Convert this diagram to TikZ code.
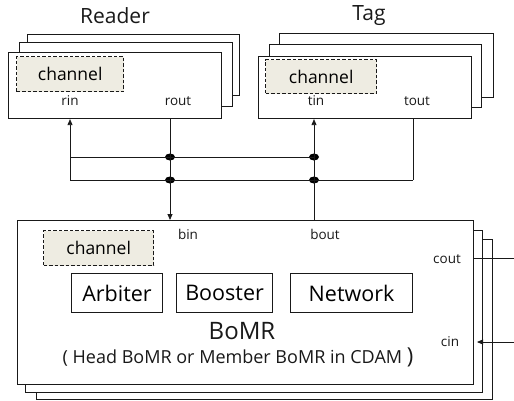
\documentclass[tikz,border=0pt]{standalone}
\usepackage{fontspec}
\setmainfont{Open Sans}
\usetikzlibrary{arrows.meta,shapes.geometric}
\definecolor{chfill}{RGB}{238,236,226}
\definecolor{ink}{RGB}{25,25,25}
\begin{document}
\begin{tikzpicture}[x=1pt,y=-1pt,
  box/.style={draw=ink, line width=1.1pt, fill=white, anchor=north west, inner sep=0pt},
  chan/.style={draw=ink, dash pattern=on 3.5pt off 2pt, line width=1.4pt, fill=chfill, anchor=north west, inner sep=0pt, font=\fontsize{17.5}{17}\selectfont},
  inbox/.style={draw=ink, line width=1.1pt, fill=white, anchor=north west, inner sep=0pt, font=\fontsize{21.5}{21}\selectfont},
  lbl/.style={inner sep=0pt, text=ink, font=\fontsize{13.5}{13}\selectfont},
  title/.style={inner sep=0pt, text=ink, font=\fontsize{21}{21}\selectfont},
  dot/.style={ellipse, fill=black, minimum width=10pt, minimum height=7pt, inner sep=0pt},
  conn/.style={draw=ink, line width=0.8pt},
  arr/.style={conn, -{Triangle[length=6pt,width=5pt]}}
]
\useasboundingbox (0,0) rectangle (514,400);

% Titles
\node[title] (rtitle) at (115,16) {Reader};
\node[title] (ttitle) at (369,16) {Tag};

% Reader stack
\node[box, minimum width=212pt, minimum height=61pt] (rback) at (27,34) {};
\node[box, minimum width=213pt, minimum height=64pt] (rmid) at (19,42) {};
\node[box, minimum width=213pt, minimum height=66pt] (reader) at (8,52) {};
\node[chan, minimum width=107pt, minimum height=35pt] (rch) at (16,56) {channel};
\node[lbl] (rin) at (70,101) {rin};
\node[lbl] (rout) at (178,101) {rout};

% Tag stack
\node[box, minimum width=214pt, minimum height=64pt] (tback) at (279,33) {};
\node[box, minimum width=212pt, minimum height=63pt] (tmid) at (269,44) {};
\node[box, minimum width=213pt, minimum height=62pt] (tag) at (258,56) {};
\node[chan, minimum width=111pt, minimum height=34pt] (tch) at (265,59) {channel};
\node[lbl] (tin) at (316,101) {tin};
\node[lbl] (tout) at (417,101) {tout};

% BoMR stack
\node[box, minimum width=456pt, minimum height=160pt] (bback) at (36,239) {};
\node[box, minimum width=457pt, minimum height=162pt] (bmid) at (25,230) {};
\node[box, minimum width=456pt, minimum height=164pt] (bomr) at (17,220) {};
\node[chan, minimum width=110pt, minimum height=35pt] (bch) at (43,230) {channel};
\node[lbl] (bin) at (188,234) {bin};
\node[lbl] (bout) at (325,234) {bout};
\node[lbl] (cout) at (447,259) {cout};
\node[lbl] (cin) at (450,342) {cin};

\node[inbox, minimum width=91pt, minimum height=39pt] (arb) at (71,273) {Arbiter};
\node[inbox, minimum width=96pt, minimum height=39pt] (boo) at (176,273) {Booster};
\node[inbox, minimum width=122pt, minimum height=39pt] (net) at (290,273) {Network};

\node[inner sep=0pt, text=ink, font=\fontsize{24}{24}\selectfont] (bname) at (242,331) {BoMR};
\node[inner sep=0pt, text=ink, font=\fontsize{18}{18}\selectfont] (bsub) at (238,357) {( Head BoMR or Member BoMR in CDAM {\fontsize{22}{22}\selectfont)}};

% Junctions
\node[dot] (d1) at (170,157) {};
\node[dot] (d2) at (170,180) {};
\node[dot] (d3) at (314,157) {};
\node[dot] (d4) at (314,180) {};
\coordinate (L1) at (70,157);
\coordinate (L2) at (70,180);
\coordinate (R2) at (413,180);
\coordinate (coutE) at (514,258);
\coordinate (cinE) at (514,342);
\coordinate (cinT) at (477,342);

% Connectors
\draw[arr] (L2) -- (reader.south -| L2);
\draw[conn] (L1) -- (d3.center);
\draw[conn] (L2) -- (R2);
\draw[conn] (tag.south -| R2) -- (R2);
\draw[arr] (reader.south -| d1) -- (bomr.north -| d1);
\draw[arr] (bomr.north -| d3) -- (tag.south -| d3);
\draw[conn] (bomr.east |- coutE) -- (coutE);
\draw[arr] (cinE) -- (cinT);
\end{tikzpicture}
\end{document}
